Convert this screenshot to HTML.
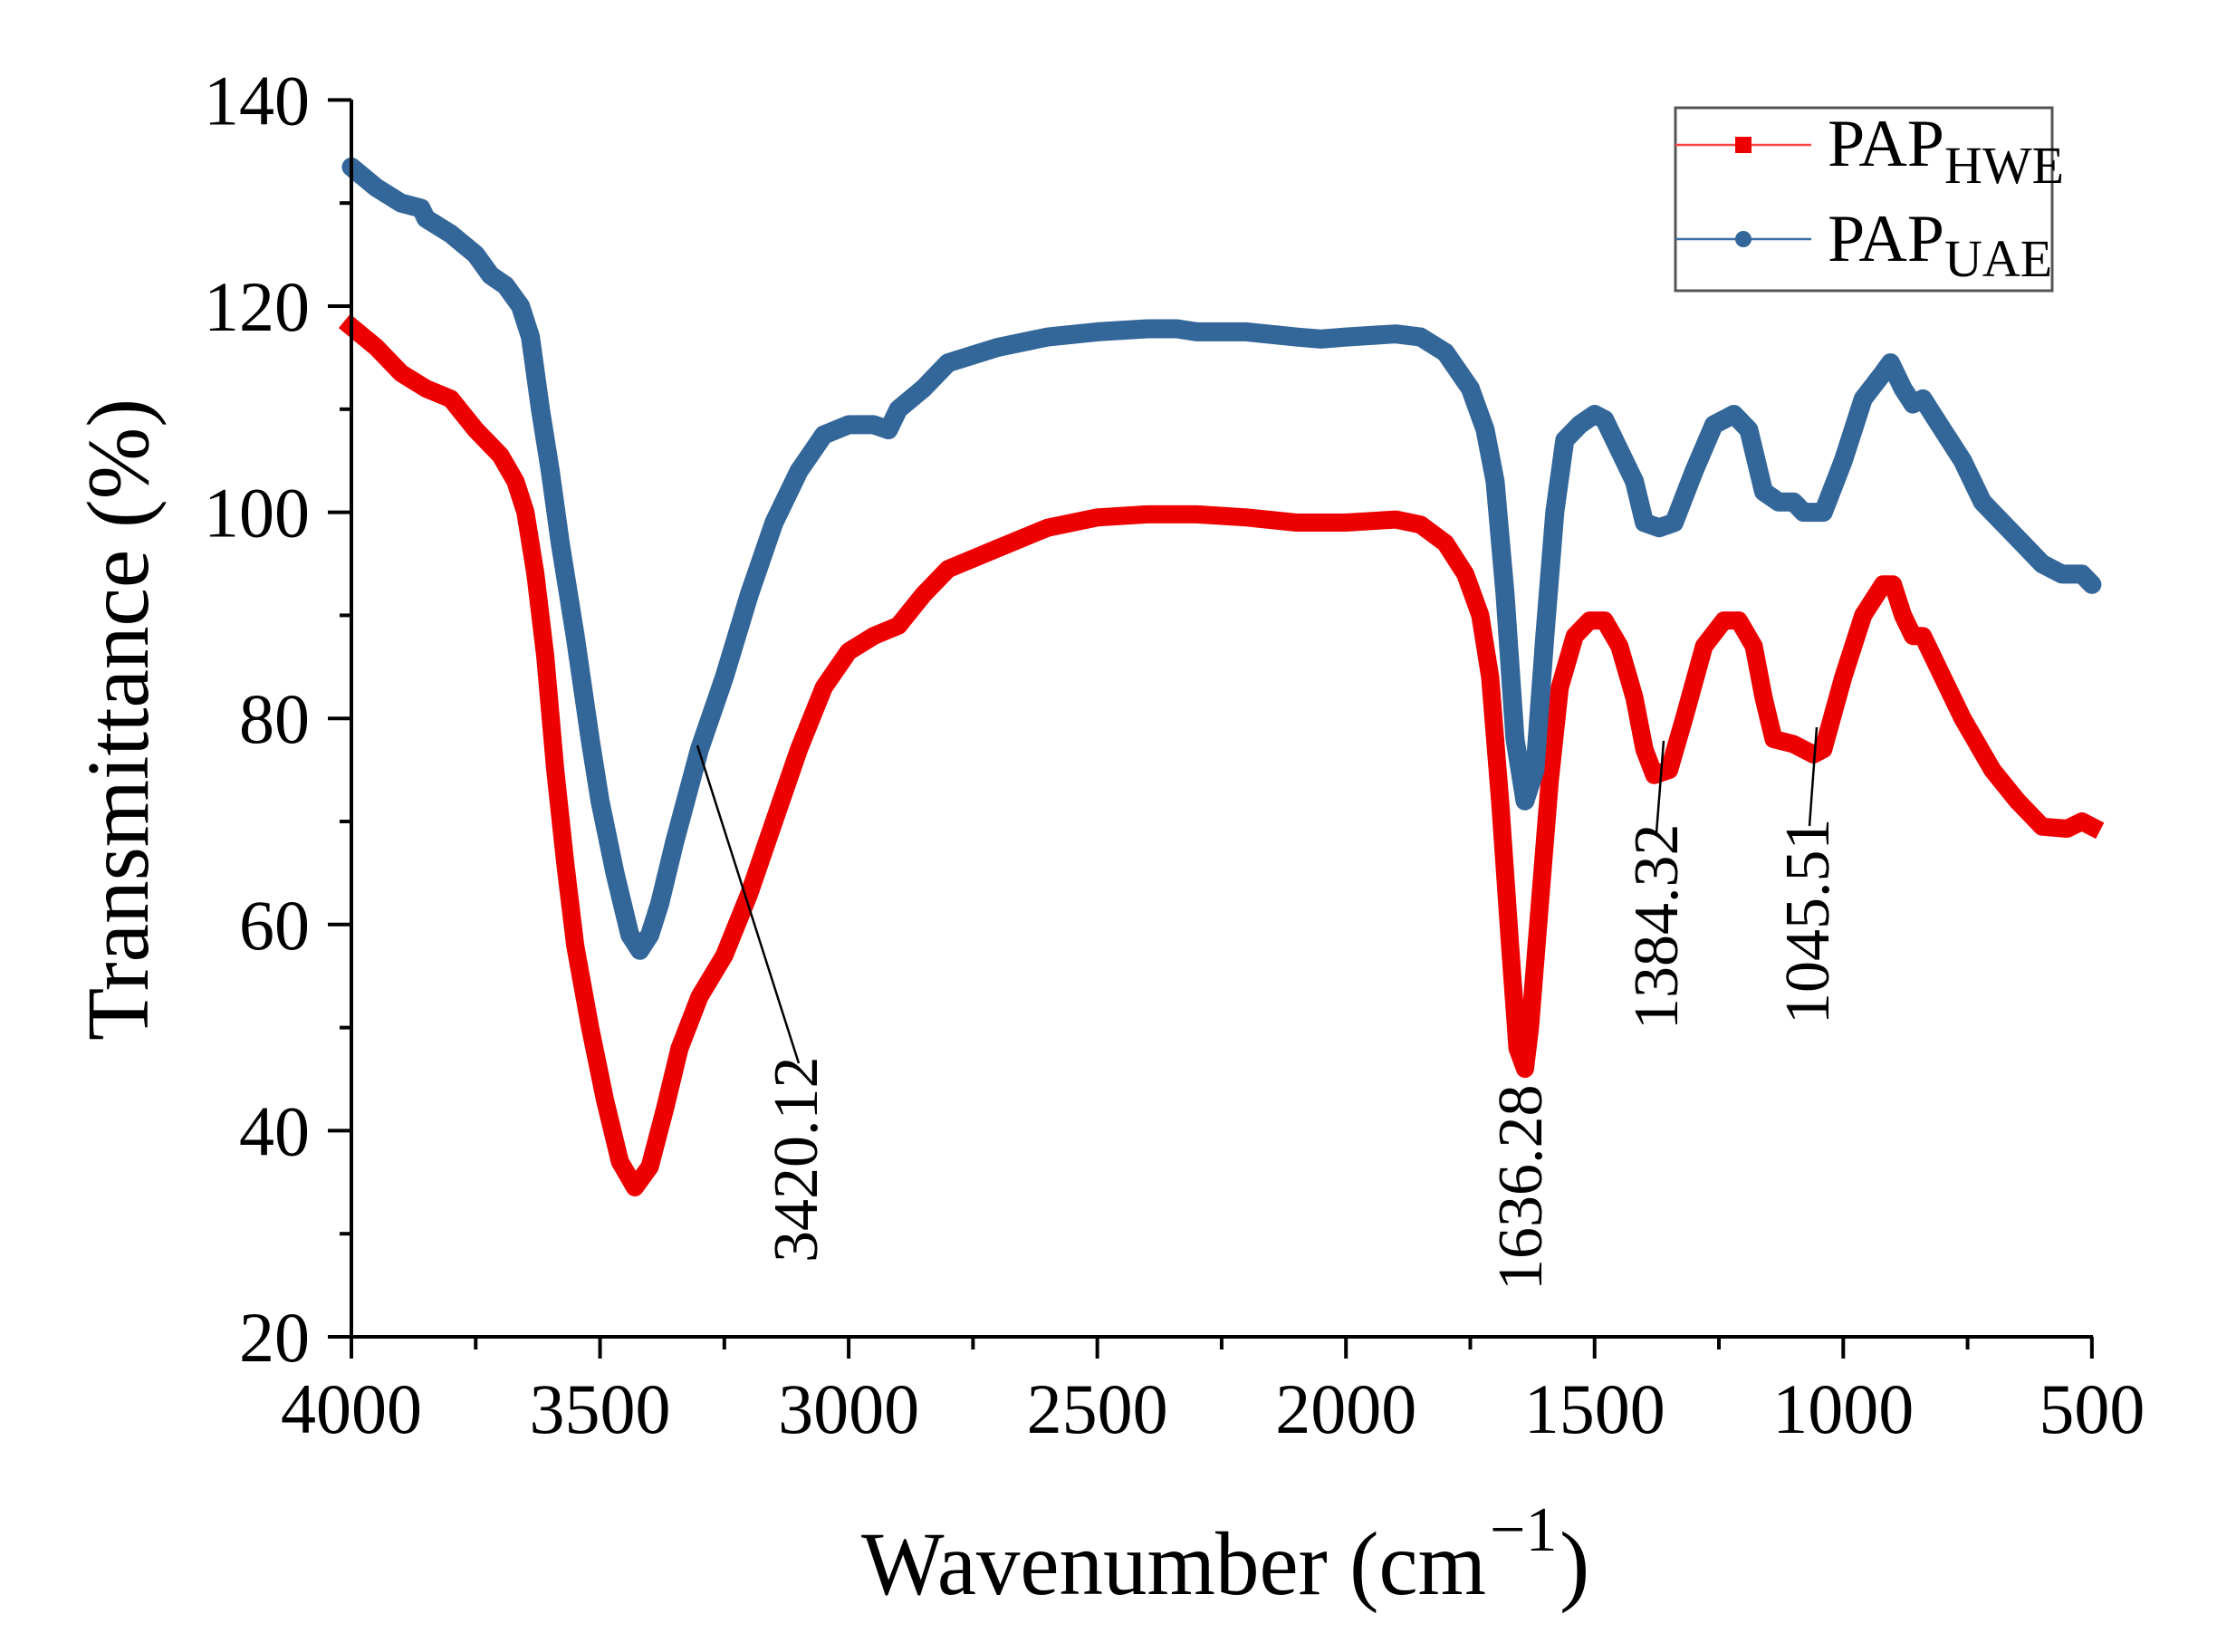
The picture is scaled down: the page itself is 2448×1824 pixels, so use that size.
<!DOCTYPE html>
<html><head><meta charset="utf-8"><style>
html,body{margin:0;padding:0;background:#fff;}
svg{display:block;}
text{font-family:"Liberation Serif",serif;fill:#000;}
</style></head><body>
<svg id="s" width="2448" height="1824" viewBox="0 0 2448 1824" xmlns="http://www.w3.org/2000/svg">
<g id="plot"></g>
<g id="axes" stroke="#000" stroke-width="4" fill="none"></g>
<g font-size="78" id="ylab" text-anchor="end"></g>
<g font-size="78" id="xlab" text-anchor="middle"></g>
<text transform="translate(163,1149) rotate(-90)" font-size="98" textLength="709" lengthAdjust="spacingAndGlyphs">Transmittance (%)</text>
<text x="951" y="1760" font-size="100" textLength="690" lengthAdjust="spacingAndGlyphs">Wavenumber (cm</text>
<text x="1645" y="1712" font-size="70">−1</text>
<text x="1722" y="1760" font-size="100">)</text>
<g stroke="#000" stroke-width="2.5">
<line x1="770" y1="823" x2="882" y2="1174"/>
<line x1="1837" y1="818" x2="1829" y2="920"/>
<line x1="2006" y1="803" x2="1998" y2="912"/>
</g>
<g font-size="70">
<text transform="translate(902,1394) rotate(-90)">3420.12</text>
<text transform="translate(1702,1425) rotate(-90)">1636.28</text>
<text transform="translate(1852,1137) rotate(-90)">1384.32</text>
<text transform="translate(2019,1131) rotate(-90)">1045.51</text>
</g>
<rect x="1850" y="119" width="416" height="202" fill="#fff" stroke="#555" stroke-width="3"/>
<line x1="1850" y1="160" x2="2000" y2="160" stroke="#f44" stroke-width="2.5"/>
<rect x="1916" y="151" width="18" height="18" fill="#e00"/>
<line x1="1850" y1="264" x2="2000" y2="264" stroke="#3a6ea5" stroke-width="2.5"/>
<circle cx="1925" cy="264" r="9" fill="#336699"/>
<text x="2018" y="183" font-size="74">PAP<tspan font-size="58" dy="19">HWE</tspan></text>
<text x="2018" y="288" font-size="74">PAP<tspan font-size="58" dy="17">UAE</tspan></text>
</svg>
<script>
const X=w=>388+(4000-w)*0.5491, Y=v=>1476-(v-20)*11.38;
const blue=[[4000,133.5],[3950,131.5],[3900,130],[3860,129.5],[3850,128.5],[3800,127],[3750,125],[3720,123],[3690,122],[3660,120],[3640,117],[3620,110],[3600,104],[3580,97],[3550,88],[3520,78],[3500,72],[3470,65],[3440,59],[3420,57.5],[3400,59],[3380,62],[3350,68],[3300,77],[3250,84],[3200,92],[3150,99],[3100,104],[3050,107.5],[3000,108.5],[2950,108.5],[2920,108],[2900,110],[2850,112],[2800,114.5],[2700,116],[2600,117],[2500,117.5],[2400,117.8],[2340,117.8],[2300,117.5],[2200,117.5],[2100,117],[2050,116.8],[2000,117],[1900,117.3],[1850,117],[1800,115.5],[1750,112],[1720,108],[1700,103],[1680,92],[1660,78],[1640,72],[1620,75],[1600,88],[1580,100],[1560,107],[1530,108.5],[1500,109.5],[1480,109],[1450,106],[1420,103],[1400,99],[1370,98.5],[1340,99],[1300,104],[1260,108.5],[1220,109.5],[1190,108],[1160,102],[1130,101],[1100,101],[1080,100],[1040,100],[1000,105],[960,111],[920,113.5],[905,114.5],[880,112],[860,110.5],[840,111],[800,108],[760,105],[720,101],[680,99],[640,97],[600,95],[560,94],[520,94],[500,93]];
const red=[[4000,118],[3950,116],[3900,113.5],[3850,112],[3800,111],[3750,108],[3700,105.5],[3670,103],[3650,100],[3630,94],[3610,86],[3590,75],[3570,66],[3550,58],[3520,50],[3490,43],[3460,37],[3430,34.5],[3400,36.5],[3370,42],[3340,48],[3300,53],[3250,57],[3200,63],[3150,70],[3100,77],[3050,83],[3000,86.5],[2950,88],[2900,89],[2850,92],[2800,94.5],[2700,96.5],[2600,98.5],[2500,99.5],[2400,99.8],[2300,99.8],[2200,99.5],[2100,99],[2050,99],[2000,99],[1900,99.3],[1850,98.8],[1800,97],[1760,94],[1730,90],[1710,84],[1690,72],[1670,58],[1655,48],[1640,46],[1630,50],[1610,62],[1590,74],[1570,83],[1540,88],[1510,89.5],[1480,89.5],[1450,87],[1420,82],[1400,77],[1380,74.5],[1350,75],[1320,80],[1280,87],[1240,89.5],[1210,89.5],[1180,87],[1160,82],[1140,78],[1100,77.5],[1060,76.5],[1040,77],[1000,84],[960,90],[920,93],[900,93],[880,90],[860,88],[840,88],[800,84],[760,80],[700,75],[650,72],[600,69.5],[550,69.3],[520,70],[500,69.5]];
const ns="http://www.w3.org/2000/svg";
function el(p,t,a,txt){const e=document.createElementNS(ns,t);for(const k in a)e.setAttribute(k,a[k]);if(txt!==undefined)e.textContent=txt;document.getElementById(p).appendChild(e);return e;}
const pts=d=>d.map(p=>X(p[0]).toFixed(1)+","+Y(p[1]).toFixed(1)).join(" ");
el("plot","polyline",{points:pts(red),fill:"none",stroke:"#ee0000","stroke-width":20,"stroke-linejoin":"round","stroke-linecap":"square"});
el("plot","polyline",{points:pts(blue),fill:"none",stroke:"#336699","stroke-width":21,"stroke-linejoin":"round","stroke-linecap":"round"});
el("axes","line",{x1:388,y1:110,x2:388,y2:1478});
el("axes","line",{x1:386,y1:1476,x2:2311,y2:1476});
for(let v=20;v<=140;v+=10){const maj=v%20==0;el("axes","line",{x1:maj?362:375,y1:Y(v),x2:388,y2:Y(v)});if(maj)el("ylab","text",{x:342,y:Y(v)+27},String(v));}
for(let w=4000;w>=500;w-=250){const maj=w%500==0;el("axes","line",{x1:X(w),y1:1476,x2:X(w),y2:maj?1500:1490});if(maj)el("xlab","text",{x:X(w),y:1582},String(w));}
</script>
</body></html>
